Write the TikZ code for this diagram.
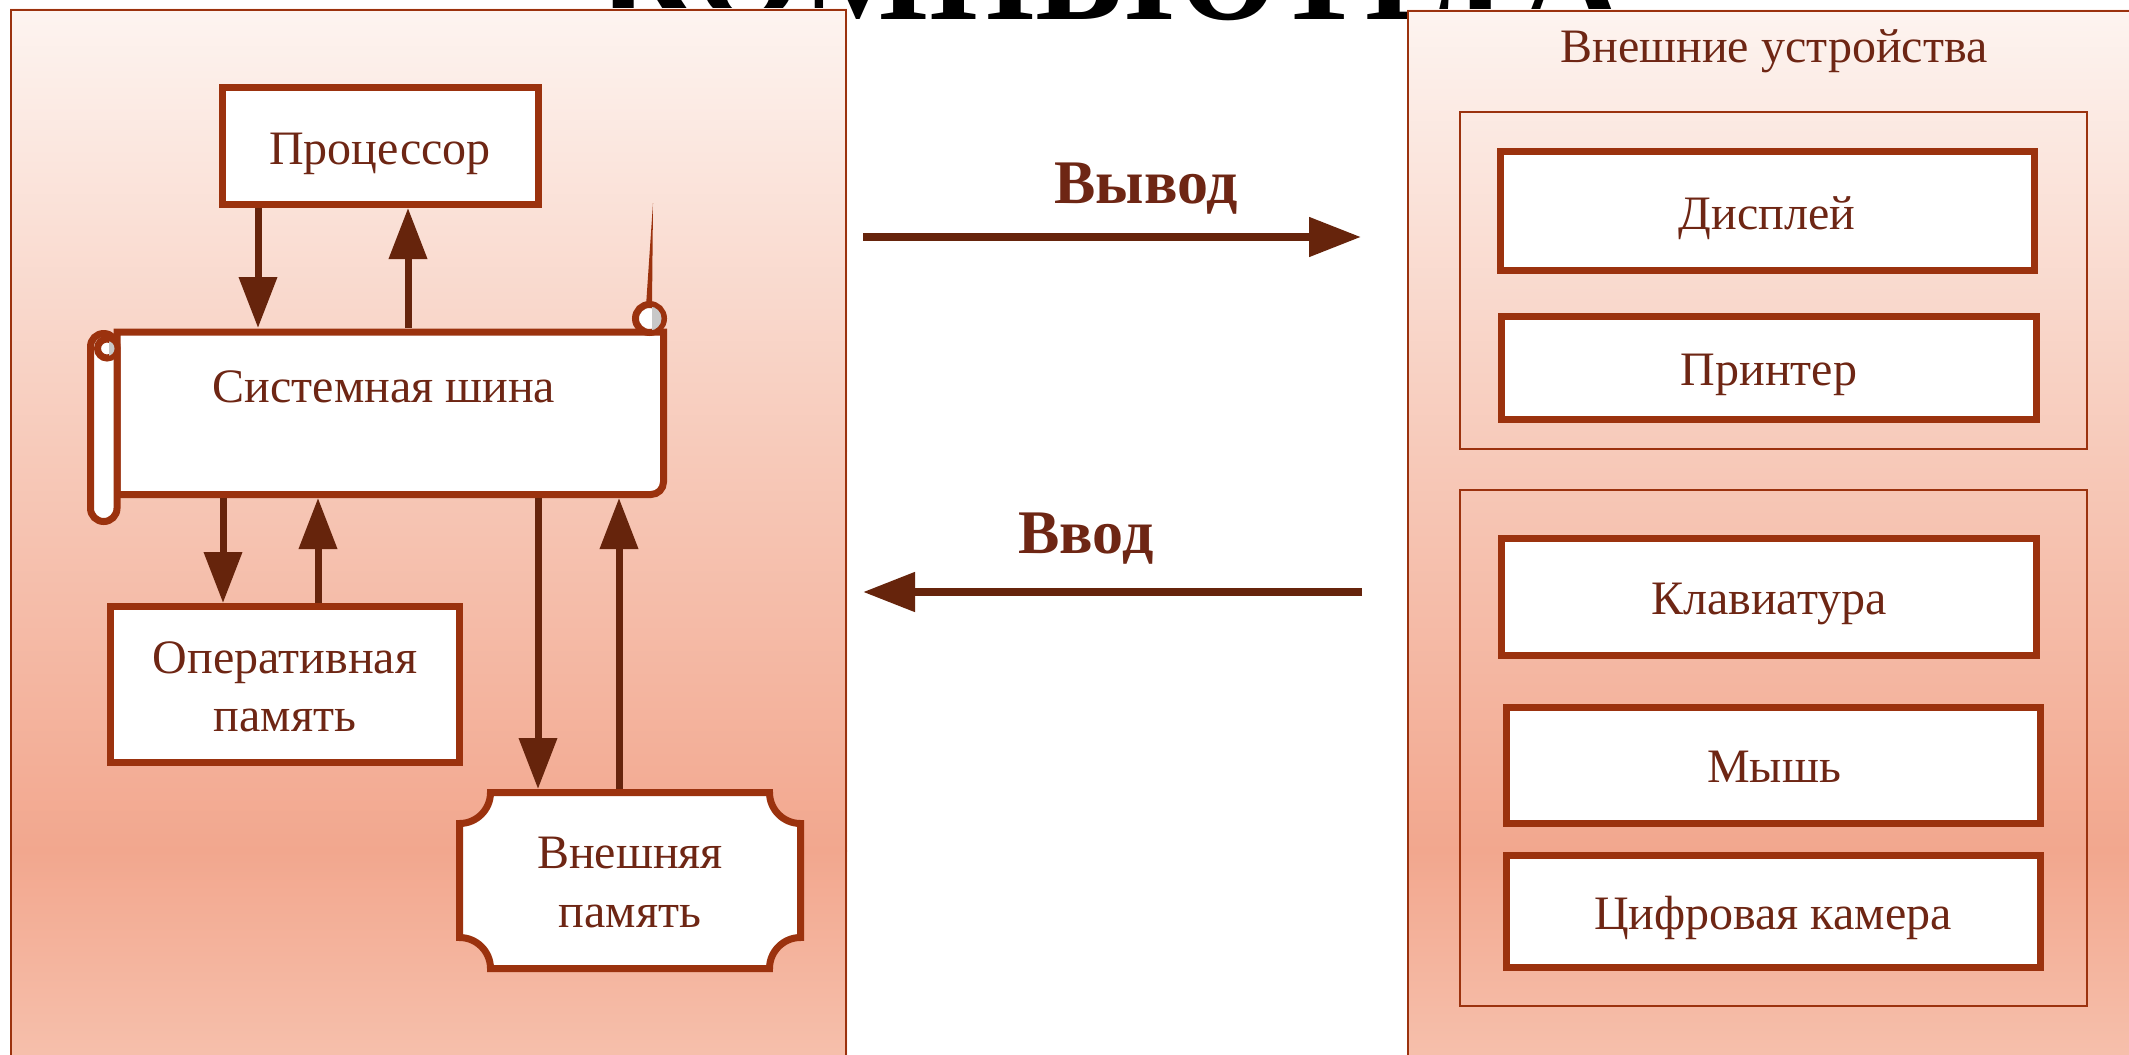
\documentclass[tikz,border=0pt]{standalone}
\usepackage{fontspec}
\setmainfont{Liberation Serif}
\usetikzlibrary{arrows.meta}
\definecolor{bordc}{RGB}{155,50,14}
\definecolor{arrc}{RGB}{102,36,12}
\definecolor{txtc}{RGB}{110,38,20}
\definecolor{gA}{RGB}{253,244,240}
\definecolor{gB}{RGB}{247,202,186}
\definecolor{gC}{RGB}{242,167,142}
\definecolor{gD}{RGB}{246,192,172}
\definecolor{curlg}{RGB}{200,200,200}
\begin{document}
\begin{tikzpicture}[x=0.5pt,y=-0.5pt,
  box/.style={draw=bordc, line width=3.5pt, fill=white, inner sep=0pt, outer sep=1.75pt},
  ghost/.style={inner sep=0pt, outer sep=0pt},
  shapeline/.style={draw=bordc, line width=3.5pt, fill=white},
  panelline/.style={draw=bordc, line width=1.25pt},
  txt/.style={text=txtc, font=\fontsize{24pt}{28pt}\selectfont, anchor=base, inner sep=0pt},
  btxt/.style={text=txtc, font=\fontsize{31pt}{36pt}\selectfont\bfseries, anchor=base, inner sep=0pt},
  arr/.style={draw=arrc, line width=3.5pt, -{Triangle[length=25.5pt,width=18.5pt]}},
  bigarr/.style={draw=arrc, line width=4pt, -{Triangle[length=26pt,width=19pt]}}]
\useasboundingbox (0,0) rectangle (2129,1054);
\clip (0,0) rectangle (2129,1054);
\fill[white] (0,0) rectangle (2129,1054);

% cut-off title
\node[anchor=base, inner sep=0pt, text=black, font=\fontsize{68pt}{72pt}\selectfont\bfseries] (title) at (1110,20) {КОМПЬЮТЕРА};

% left panel
\shade[top color=gA, bottom color=gB] (10,9) rectangle (847,451);
\shade[top color=gB, bottom color=gC] (10,450) rectangle (847,851);
\shade[top color=gC, bottom color=gD] (10,850) rectangle (847,1060);
\draw[panelline] (11,1070) -- (11,10) -- (846,10) -- (846,1070);
% right panel
\shade[top color=gA, bottom color=gB] (1407,10) rectangle (2140,451);
\shade[top color=gB, bottom color=gC] (1407,450) rectangle (2140,851);
\shade[top color=gC, bottom color=gD] (1407,850) rectangle (2140,1060);
\draw[panelline] (1408,1070) -- (1408,11) -- (2140,11);

% device groups
\draw[panelline] (1460,112) rectangle (2087,449);
\draw[panelline] (1460,490) rectangle (2087,1006);

% boxes
\node[box, minimum width=158pt, minimum height=58.5pt] (proc) at (380.5,146) {};
\node[box, minimum width=174.5pt, minimum height=78pt] (ram) at (285,684.5) {};
\node[box, minimum width=267pt, minimum height=59.5pt] (disp) at (1767.5,211) {};
\node[box, minimum width=267.5pt, minimum height=51.5pt] (prn) at (1769,368) {};
\node[box, minimum width=267.5pt, minimum height=58.5pt] (kbd) at (1769,597) {};
\node[box, minimum width=267pt, minimum height=58pt] (mouse) at (1773.5,765.5) {};
\node[box, minimum width=267pt, minimum height=56pt] (cam) at (1773.5,911.5) {};

% system bus (scroll)
\node[ghost, minimum width=290pt, minimum height=85pt] (bus) at (377,413) {};
\fill[bordc] (653,203) -- (652,306) -- (646,306) -- cycle;
\path[shapeline] (117,332) -- (663.5,332) -- (663.5,482)
  .. controls (663.5,488.9) and (657.9,494.5) .. (651,494.5) -- (117,494.5) -- cycle;
\path[shapeline, rounded corners=6.6pt] (90.5,333.5) rectangle (117,521.5);
\path[shapeline] (107,348.5) circle[radius=9.5];
\begin{scope}
  \clip (107,348.5) circle[radius=7.5];
  \fill[curlg] (109,335) rectangle (120,362);
\end{scope}
\path[shapeline] (649.5,318.5) circle[radius=14];
\begin{scope}
  \clip (649.5,318.5) circle[radius=12];
  \fill[curlg] (652,300) rectangle (668,336);
\end{scope}

% external memory (plaque)
\node[ghost, minimum width=174pt, minimum height=91.5pt] (ext) at (630,880.5) {};
\path[shapeline] (490.5,792.5) -- (769.5,792.5)
  .. controls (769.5,809.6) and (783.4,823.5) .. (800.5,823.5)
  -- (800.5,937.5)
  .. controls (783.4,937.5) and (769.5,951.4) .. (769.5,968.5)
  -- (490.5,968.5)
  .. controls (490.5,951.4) and (476.6,937.5) .. (459.5,937.5)
  -- (459.5,823.5)
  .. controls (476.6,823.5) and (490.5,809.6) .. (490.5,792.5) -- cycle;

% connectors
\coordinate (xa) at (258,0);
\coordinate (xb) at (408,0);
\coordinate (xc) at (223,0);
\coordinate (xd) at (318,0);
\coordinate (xe) at (538,0);
\coordinate (xf) at (619,0);
\draw[arr] (proc.south -| xa) -- (bus.north -| xa);
\draw[arr] (bus.north -| xb) -- (proc.south -| xb);
\draw[arr] (bus.south -| xc) -- (ram.north -| xc);
\draw[arr] (ram.north -| xd) -- (bus.south -| xd);
\draw[arr] (bus.south -| xe) -- (ext.north -| xe);
\draw[arr] (ext.north -| xf) -- (bus.south -| xf);

\coordinate (outL) at (863,237);
\coordinate (outR) at (1361,237);
\coordinate (inR) at (1362,592);
\coordinate (inL) at (863,592);
\draw[bigarr] (outL) -- (outR);
\draw[bigarr] (inR) -- (inL);

% texts
\node[txt] (procT) at (380,164) {Процессор};
\node[txt] (busT) at (384,402) {Системная шина};
\node[txt] (ramT1) at (285,673) {Оперативная};
\node[txt] (ramT2) at (285,731) {память};
\node[txt] (extT1) at (630,868) {Внешняя};
\node[txt] (extT2) at (630,927) {память};
\node[txt] (devT) at (1774,63) {Внешние устройства};
\node[txt] (dispT) at (1767,229) {Дисплей};
\node[txt] (prnT) at (1769,385) {Принтер};
\node[txt] (kbdT) at (1769,614) {Клавиатура};
\node[txt] (mouseT) at (1774,782) {Мышь};
\node[txt] (camT) at (1773,929) {Цифровая камера};
\node[btxt] (outT) at (1146,203) {Вывод};
\node[btxt] (inT) at (1086,553) {Ввод};
\end{tikzpicture}
\end{document}
